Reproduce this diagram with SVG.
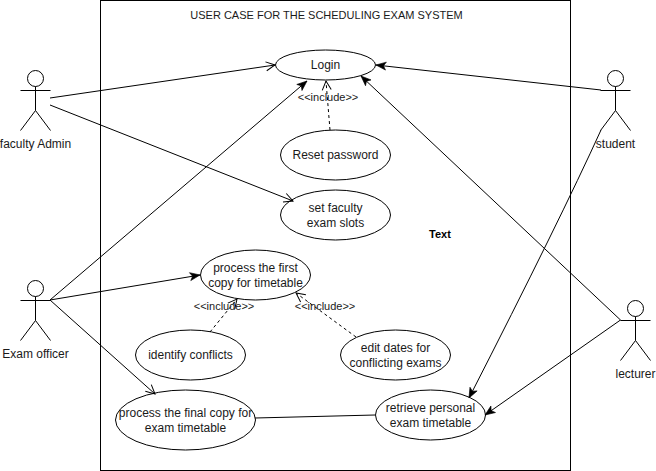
<svg xmlns="http://www.w3.org/2000/svg" width="656" height="471" viewBox="0 0 656 471">
<style>
text{font-family:"Liberation Sans",Arial,sans-serif;font-size:12px;fill:#1a1a1a;text-anchor:middle}
.s{font-size:11px}
.t{font-size:11px}
.b{font-weight:bold;font-size:11px;fill:#000}
.n{fill:#fff;stroke:#000;stroke-width:1}
.a{fill:none;stroke:#000;stroke-width:1}
.o{marker-end:url(#open)}
.f{marker-end:url(#fill)}
.d{stroke-dasharray:3 3;marker-end:url(#open)}
</style>
<defs>
<marker id="open" markerUnits="userSpaceOnUse" markerWidth="14" markerHeight="14" refX="11" refY="7" orient="auto"><path d="M2 2.500L11 7L2 11.500" fill="none" stroke="#000"/></marker>
<marker id="fill" markerUnits="userSpaceOnUse" markerWidth="14" markerHeight="14" refX="11" refY="7" orient="auto"><path d="M1 3L11 7L1 11L3.500 7Z" fill="#000" stroke="#000" stroke-width="0.6"/></marker>
<g id="actor"><circle cx="0" cy="8" r="8" class="a"/><path class="a" d="M0 16V40M-15 20H15M-15 60L0 40L15 60"/></g>
</defs>
<rect id="boundary" x="100.500" y="0.500" width="470" height="470" fill="#fff" stroke="#000"/>
<text class="t" x="326.500" y="19">USER CASE FOR THE SCHEDULING EXAM SYSTEM</text>
<g id="n-login"><ellipse class="n" cx="325.500" cy="65" rx="50" ry="15"/><text x="325.500" y="69">Login</text></g>
<g id="n-reset"><ellipse class="n" cx="335.500" cy="155" rx="55" ry="25"/><text x="335.500" y="159">Reset password</text></g>
<g id="n-slots"><ellipse class="n" cx="335.500" cy="215" rx="55" ry="25"/><text x="335.500" y="212">set faculty</text><text x="335.500" y="227">exam slots</text></g>
<g id="n-first"><ellipse class="n" cx="255.500" cy="275" rx="55" ry="25"/><text x="255.500" y="272">process the first</text><text x="255.500" y="287">copy for timetable</text></g>
<g id="n-conflicts"><ellipse class="n" cx="190.500" cy="355" rx="55" ry="25"/><text x="190.500" y="359">identify conflicts</text></g>
<g id="n-edit"><ellipse class="n" cx="395.500" cy="355" rx="55" ry="25"/><text x="395.500" y="352">edit dates for</text><text x="395.500" y="367">conflicting exams</text></g>
<g id="n-final"><ellipse class="n" cx="185.500" cy="420" rx="70" ry="30"/><text x="185.500" y="417">process the final copy for</text><text x="185.500" y="432">exam timetable</text></g>
<g id="n-retrieve"><ellipse class="n" cx="430.500" cy="415" rx="55" ry="25"/><text x="430.500" y="412">retrieve personal</text><text x="430.500" y="427">exam timetable</text></g>
<text class="b" x="440" y="238">Text</text>
<g id="connectors">
<path class="a o" d="M50 98L275 65"/>
<path class="a o" d="M50 105L293 201"/>
<path class="a f" d="M50 300L307 81"/>
<path class="a f" d="M50 300L200 275"/>
<path class="a o" d="M50 300L155 394"/>
<path class="a f" d="M601 90L376 65"/>
<path class="a f" d="M601 130Q560 220 469 398"/>
<path class="a f" d="M620.500 320L361 76"/>
<path class="a f" d="M620.500 320L485 415"/>
<path class="a" d="M255 418L375 415"/>
<path class="a d" d="M330 130L326 81"/>
<path class="a d" d="M210 332L237 299"/>
<path class="a d" d="M356 337L296 293"/>
<text class="s" x="328" y="101">&lt;&lt;include&gt;&gt;</text>
<text class="s" x="224" y="310">&lt;&lt;include&gt;&gt;</text>
<text class="s" x="325" y="310">&lt;&lt;include&gt;&gt;</text>
</g>
<g id="a-admin"><use href="#actor" x="35.500" y="70.500"/><text x="35.500" y="148">faculty Admin</text></g>
<g id="a-officer"><use href="#actor" x="35.500" y="280.500"/><text x="35.500" y="358">Exam officer</text></g>
<g id="a-student"><use href="#actor" x="615.500" y="70.500"/><text x="615.500" y="148">student</text></g>
<g id="a-lecturer"><use href="#actor" x="635.500" y="300.500"/><text x="635.500" y="378">lecturer</text></g>
</svg>
